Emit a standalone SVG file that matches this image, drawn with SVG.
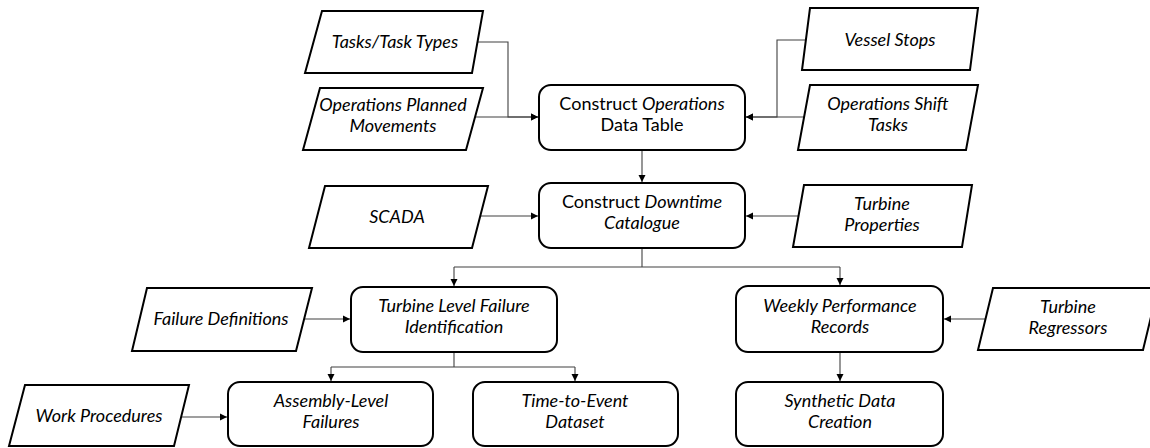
<svg xmlns="http://www.w3.org/2000/svg" width="1150" height="448" viewBox="0 0 1150 448">
<style>
.n{fill:#fff;stroke:#000;stroke-width:2;stroke-linejoin:miter}
.b{fill:#fff;stroke:#000;stroke-width:2}
.t{font-family:Lato,"Open Sans","Liberation Sans",sans-serif;font-size:18px;fill:#000;text-anchor:middle}
.i{font-style:italic}
.c{fill:none;stroke:#404040;stroke-width:1.1}
</style>
<defs>
<marker id="a" markerWidth="8" markerHeight="8" refX="7" refY="4" orient="auto" markerUnits="userSpaceOnUse">
<path d="M0,0.5 L7,4 L0,7.5 Z" fill="#000"/>
</marker>
</defs>
<g id="connectors">
<path class="c" d="M478,42 H508 V117 H538" marker-end="url(#a)"/>
<path class="c" d="M474,117 H538" marker-end="url(#a)"/>
<path class="c" d="M806,40 H777 V117 H746" marker-end="url(#a)"/>
<path class="c" d="M804,117 H746" marker-end="url(#a)"/>
<path class="c" d="M642,150 V182" marker-end="url(#a)"/>
<path class="c" d="M480,216 H538" marker-end="url(#a)"/>
<path class="c" d="M798,216 H746" marker-end="url(#a)"/>
<path class="c" d="M642,248 V267"/>
<path class="c" d="M454,267 H840"/>
<path class="c" d="M454,267 V286" marker-end="url(#a)"/>
<path class="c" d="M840,267 V285" marker-end="url(#a)"/>
<path class="c" d="M304,319 H350" marker-end="url(#a)"/>
<path class="c" d="M985,319 H944" marker-end="url(#a)"/>
<path class="c" d="M454,352 V367"/>
<path class="c" d="M331,367 H575"/>
<path class="c" d="M331,367 V381" marker-end="url(#a)"/>
<path class="c" d="M575,367 V381" marker-end="url(#a)"/>
<path class="c" d="M840,352 V381" marker-end="url(#a)"/>
<path class="c" d="M182,417 H227" marker-end="url(#a)"/>
</g>
<g id="tasks">
<polygon class="n" points="322,11 483,11 472,73 305,73"/>
<text class="t i" x="395" y="48">Tasks/Task Types</text>
</g>
<g id="ops-planned">
<polygon class="n" points="320,88 483,88 466,150 303,150"/>
<text class="t i" x="393" y="111">Operations Planned</text>
<text class="t i" x="393" y="132">Movements</text>
</g>
<g id="ops-table">
<rect class="b" x="539" y="85" width="206" height="65" rx="12"/>
<text class="t" x="642" y="110">Construct <tspan class="i">Operations</tspan></text>
<text class="t" x="642" y="131">Data Table</text>
</g>
<g id="vessel-stops">
<polygon class="n" points="810,8 978,8 970,70 802,70"/>
<text class="t i" x="890" y="46">Vessel Stops</text>
</g>
<g id="ops-shift">
<polygon class="n" points="810,85 978,85 966,150 798,150"/>
<text class="t i" x="888" y="110">Operations Shift</text>
<text class="t i" x="888" y="131">Tasks</text>
</g>
<g id="scada">
<polygon class="n" points="325,186 488,186 472,248 309,248"/>
<text class="t i" x="397" y="223">SCADA</text>
</g>
<g id="downtime">
<rect class="b" x="539" y="183" width="206" height="65" rx="12"/>
<text class="t" x="642" y="208">Construct <tspan class="i">Downtime</tspan></text>
<text class="t i" x="642" y="229">Catalogue</text>
</g>
<g id="turbine-props">
<polygon class="n" points="804,185 972,185 962,247 793,247"/>
<text class="t i" x="882" y="210">Turbine</text>
<text class="t i" x="882" y="231">Properties</text>
</g>
<g id="failure-defs">
<polygon class="n" points="147,288 312,288 296,351 132,351"/>
<text class="t i" x="221" y="325">Failure Definitions</text>
</g>
<g id="turbine-level">
<rect class="b" x="351" y="287" width="206" height="65" rx="12"/>
<text class="t i" x="454" y="312">Turbine Level Failure</text>
<text class="t i" x="454" y="333">Identification</text>
</g>
<g id="weekly">
<rect class="b" x="736" y="286" width="207" height="66" rx="12"/>
<text class="t i" x="840" y="312">Weekly Performance</text>
<text class="t i" x="840" y="333">Records</text>
</g>
<g id="turbine-regressors">
<polygon class="n" points="993,288 1158,288 1143,350 978,350"/>
<text class="t i" x="1068" y="313">Turbine</text>
<text class="t i" x="1068" y="334">Regressors</text>
</g>
<g id="work-procedures">
<polygon class="n" points="25,385 189,385 174,446 9,446"/>
<text class="t i" x="99" y="422">Work Procedures</text>
</g>
<g id="assembly">
<rect class="b" x="228" y="382" width="205" height="64" rx="12"/>
<text class="t i" x="331" y="407">Assembly-Level</text>
<text class="t i" x="331" y="428">Failures</text>
</g>
<g id="tte">
<rect class="b" x="473" y="382" width="205" height="64" rx="12"/>
<text class="t i" x="575" y="407">Time-to-Event</text>
<text class="t i" x="575" y="428">Dataset</text>
</g>
<g id="synthetic">
<rect class="b" x="736" y="382" width="207" height="64" rx="12"/>
<text class="t i" x="840" y="407">Synthetic Data</text>
<text class="t i" x="840" y="428">Creation</text>
</g>
</svg>
